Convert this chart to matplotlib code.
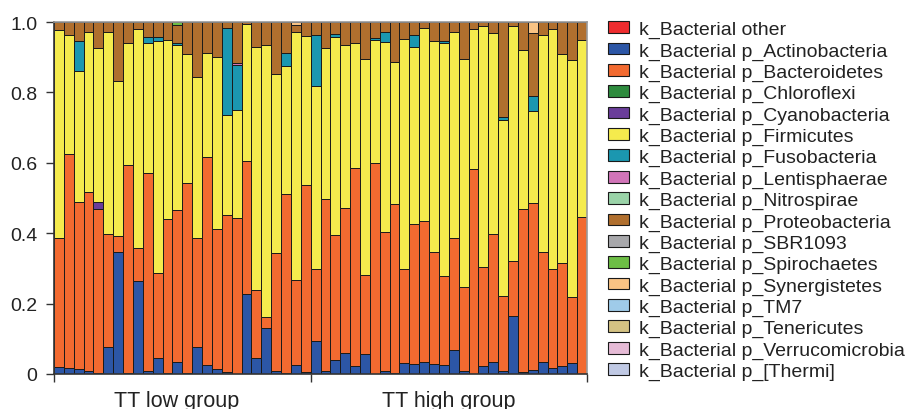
import numpy as np
import matplotlib
matplotlib.use('Agg')
import matplotlib.pyplot as plt
from matplotlib.patches import Patch

plt.rcParams['font.family'] = ['Liberation Sans', 'DejaVu Sans']

## samples: 26 in TT low group, 28 in TT high group
n_low = 26
n_high = 28

## relative abundance per sample
actino = [0.019, 0.016, 0.013, 0.009, 0.003, 0.077, 0.347, 0.004, 0.263, 0.008,
          0.045, 0.004, 0.034, 0.004, 0.077, 0.025, 0.015, 0.006, 0.000, 0.228,
          0.045, 0.130, 0.008, 0.004, 0.025, 0.006,
          0.093, 0.008, 0.041, 0.059, 0.022, 0.056, 0.000, 0.009, 0.004, 0.030,
          0.027, 0.035, 0.029, 0.025, 0.067, 0.008, 0.000, 0.024, 0.033, 0.008,
          0.164, 0.007, 0.012, 0.033, 0.016, 0.023, 0.030, 0.000]
bacteroid = [0.366, 0.610, 0.477, 0.507, 0.465, 0.322, 0.045, 0.589, 0.095, 0.563,
             0.242, 0.437, 0.431, 0.538, 0.310, 0.591, 0.396, 0.445, 0.443, 0.377,
             0.195, 0.031, 0.335, 0.506, 0.241, 0.532,
             0.204, 0.488, 0.354, 0.414, 0.564, 0.224, 0.599, 0.395, 0.480, 0.268,
             0.399, 0.400, 0.319, 0.253, 0.319, 0.240, 0.583, 0.280, 0.364, 0.214,
             0.156, 0.463, 0.474, 0.315, 0.281, 0.292, 0.189, 0.446]
firmic = [0.593, 0.337, 0.370, 0.456, 0.435, 0.572, 0.439, 0.348, 0.623, 0.370,
          0.658, 0.509, 0.470, 0.368, 0.456, 0.296, 0.489, 0.284, 0.308, 0.390,
          0.690, 0.774, 0.510, 0.364, 0.707, 0.422,
          0.522, 0.429, 0.563, 0.463, 0.355, 0.616, 0.350, 0.538, 0.402, 0.653,
          0.504, 0.549, 0.597, 0.661, 0.586, 0.647, 0.397, 0.686, 0.571, 0.501,
          0.670, 0.451, 0.260, 0.614, 0.684, 0.595, 0.674, 0.502]
fuso = [0.000, 0.000, 0.085, 0.000, 0.000, 0.000, 0.000, 0.000, 0.000, 0.016,
        0.013, 0.000, 0.006, 0.000, 0.000, 0.000, 0.000, 0.248, 0.128, 0.000,
        0.000, 0.000, 0.000, 0.039, 0.000, 0.000,
        0.144, 0.000, 0.008, 0.000, 0.000, 0.000, 0.006, 0.029, 0.000, 0.000,
        0.034, 0.000, 0.000, 0.008, 0.000, 0.000, 0.000, 0.000, 0.000, 0.007,
        0.000, 0.000, 0.045, 0.000, 0.000, 0.000, 0.000, 0.000]
proteo = [0.022, 0.037, 0.055, 0.028, 0.075, 0.029, 0.169, 0.059, 0.019, 0.043,
          0.042, 0.050, 0.050, 0.090, 0.157, 0.088, 0.100, 0.017, 0.116, 0.005,
          0.070, 0.065, 0.147, 0.087, 0.018, 0.040,
          0.037, 0.075, 0.034, 0.064, 0.059, 0.104, 0.045, 0.029, 0.114, 0.049,
          0.036, 0.016, 0.055, 0.053, 0.028, 0.105, 0.020, 0.010, 0.032, 0.270,
          0.010, 0.079, 0.178, 0.038, 0.019, 0.090, 0.107, 0.052]
# rare phyla: sample index -> abundance
cyano = {4: 0.022}
lentis = {18: 0.005}
spiro = {12: 0.009}
synerg = {24: 0.009, 48: 0.031}

groups = ['TT low group', 'TT high group']

legend_names = ['other', 'p_Actinobacteria', 'p_Bacteroidetes', 'p_Chloroflexi',
                'p_Cyanobacteria', 'p_Firmicutes', 'p_Fusobacteria', 'p_Lentisphaerae',
                'p_Nitrospirae', 'p_Proteobacteria', 'p_SBR1093', 'p_Spirochaetes',
                'p_Synergistetes', 'p_TM7', 'p_Tenericutes', 'p_Verrucomicrobia',
                'p_[Thermi]']
legend_colors = ['#ee2c2f', '#2c56a6', '#f26a30', '#2e8b3e', '#6a3d9a', '#f5eb4d',
                 '#1b97b0', '#d174b8', '#9ad3a8', '#b06f2e', '#a8a8ab', '#6dbe45',
                 '#f9c384', '#9fcbe9', '#d4c283', '#e6bbd6', '#c0c9e4']
col = dict(zip(legend_names, legend_colors))

n = n_low + n_high
x = np.arange(n)

def sparse(d):
    a = np.zeros(n)
    for k, v in d.items():
        a[k] = v
    return a

stack = [
    ('p_Actinobacteria', np.array(actino)),
    ('p_Bacteroidetes', np.array(bacteroid)),
    ('p_Cyanobacteria', sparse(cyano)),
    ('p_Firmicutes', np.array(firmic)),
    ('p_Fusobacteria', np.array(fuso)),
    ('p_Lentisphaerae', sparse(lentis)),
    ('p_Proteobacteria', np.array(proteo)),
    ('p_Spirochaetes', sparse(spiro)),
    ('p_Synergistetes', sparse(synerg)),
]

fig = plt.figure(figsize=(9.14, 4.10), dpi=100)
ax = fig.add_axes([54/914, 1-375/410, (587-54)/914, (375-23)/410])

bottom = np.zeros(n)
for name, h in stack:
    lw = np.where(h > 0, 0.7, 0.0)
    ax.bar(x, h, bottom=bottom, width=1.0, color=col[name],
           edgecolor='#1a1a1a', linewidth=lw)
    bottom = bottom + h

ax.set_xlim(-0.5, n - 0.5)
ax.set_ylim(0, 1.0)
ax.set_yticks([0, 0.2, 0.4, 0.6, 0.8, 1.0])
ax.set_yticklabels(['0', '0.2', '0.4', '0.6', '0.8', '1.0'], fontsize=14, color='#222222')
ax.set_xticks([-0.5, n_low - 0.5, n - 0.5])
ax.set_xticklabels([])
ax.tick_params(axis='both', direction='out', length=6, width=1, color='#333333')
ax.tick_params(axis='y', pad=6)

ax.text((n_low - 1) / 2 - 0.6, -0.045, groups[0], ha='center', va='top',
        fontsize=15.5, color='#222222', transform=ax.transData)
ax.text(n_low + (n_high - 1) / 2, -0.045, groups[1], ha='center', va='top',
        fontsize=15.5, color='#222222', transform=ax.transData)

for s in ['left', 'bottom']:
    ax.spines[s].set_color('#333333')
    ax.spines[s].set_linewidth(1.2)
for s in ['top', 'right']:
    ax.spines[s].set_color('#999999')
    ax.spines[s].set_linewidth(1.2)

handles = [Patch(facecolor=c, edgecolor='#1a1a1a', linewidth=0.8) for c in legend_colors]
labels = ['k_Bacterial ' + nm for nm in legend_names]
fig.legend(handles, labels, loc='upper left', bbox_to_anchor=(608/914, 1-22/410),
           frameon=False, fontsize=14, handlelength=1.1, handleheight=0.55,
           handletextpad=0.5, labelspacing=0.215, borderaxespad=0, borderpad=0,
           labelcolor='#222222')

fig.savefig('out.png', dpi=100)
